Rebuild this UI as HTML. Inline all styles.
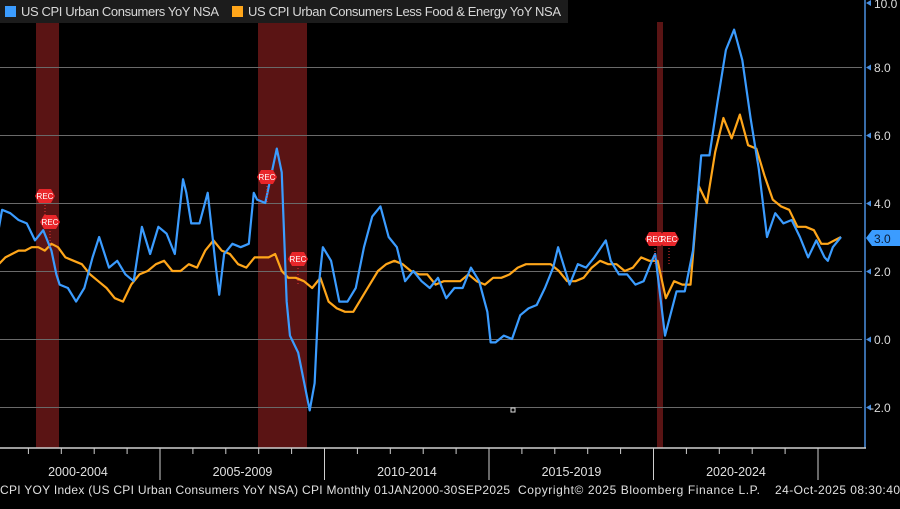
<!DOCTYPE html>
<html><head><meta charset="utf-8"><style>
body{margin:0;background:#000;width:900px;height:509px;overflow:hidden;font-family:"Liberation Sans",sans-serif}
</style></head><body>
<svg width="900" height="509" xmlns="http://www.w3.org/2000/svg" style="display:block">
<rect width="900" height="509" fill="#000"/>
<g fill="#5a1414">
<rect x="36" y="22" width="23" height="426"/>
<rect x="258" y="22" width="49" height="426"/>
<rect x="657" y="22" width="6" height="426"/>
</g>
<rect x="0" y="0" width="568" height="23" fill="#1c1c1c"/>
<rect x="5" y="6" width="11" height="11" fill="#3b9cff"/>
<text x="21" y="16" fill="#d8d8d8" font-size="13" textLength="198">US CPI Urban Consumers YoY NSA</text>
<rect x="232" y="6" width="11" height="11" fill="#ffa61a"/>
<text x="248" y="16" fill="#d8d8d8" font-size="13" textLength="313">US CPI Urban Consumers Less Food &amp; Energy YoY NSA</text>
<g stroke="#6a6a6a" stroke-width="1">
<line x1="0" y1="67.5" x2="862" y2="67.5"/><line x1="0" y1="135.5" x2="862" y2="135.5"/>
<line x1="0" y1="203.5" x2="862" y2="203.5"/><line x1="0" y1="271.5" x2="862" y2="271.5"/>
<line x1="0" y1="339.5" x2="862" y2="339.5"/><line x1="0" y1="407.5" x2="862" y2="407.5"/>
</g>
<g transform="translate(-4.5,339) scale(32.9,-34)" fill="none" stroke-linejoin="round">
<polyline vector-effect="non-scaling-stroke" stroke="#ffa61a" stroke-width="2.2" points="0.1,2.2 0.3,2.4 0.5,2.5 0.7,2.6 0.9,2.6 1.1,2.7 1.3,2.7 1.5,2.6 1.7,2.8 1.9,2.7 2.125,2.4 2.375,2.3 2.625,2.2 2.875,1.9 3.125,1.7 3.375,1.5 3.625,1.2 3.875,1.1 4.125,1.6 4.375,1.9 4.625,2.0 4.875,2.2 5.125,2.3 5.375,2.0 5.625,2.0 5.875,2.2 6.125,2.1 6.375,2.6 6.625,2.9 6.875,2.6 7.125,2.5 7.375,2.2 7.625,2.1 7.875,2.4 8.1,2.4 8.3,2.4 8.5,2.5 8.7,2.0 8.9,1.8 9.125,1.8 9.375,1.7 9.625,1.5 9.875,1.8 10.125,1.1 10.375,0.9 10.625,0.8 10.875,0.8 11.125,1.2 11.375,1.6 11.625,2.0 11.875,2.2 12.125,2.3 12.375,2.2 12.625,2.0 12.875,1.9 13.125,1.9 13.375,1.6 13.625,1.7 13.875,1.7 14.125,1.7 14.375,1.9 14.625,1.7 14.875,1.6 15.125,1.8 15.375,1.8 15.625,1.9 15.875,2.1 16.125,2.2 16.375,2.2 16.625,2.2 16.875,2.2 17.125,2.0 17.375,1.7 17.625,1.7 17.875,1.8 18.125,2.1 18.375,2.3 18.625,2.2 18.875,2.2 19.125,2.0 19.375,2.1 19.625,2.4 19.875,2.3 20.125,2.3 20.375,1.2 20.625,1.7 20.875,1.6 21.125,1.6 21.375,4.5 21.625,4.0 21.875,5.5 22.125,6.5 22.375,5.9 22.625,6.6 22.875,5.7 23.125,5.6 23.375,4.8 23.625,4.1 23.875,3.9 24.125,3.8 24.375,3.3 24.625,3.3 24.875,3.2 25.1,2.8 25.3,2.8 25.5,2.9 25.7,3.0"/>
<polyline vector-effect="non-scaling-stroke" stroke="#3b9cff" stroke-width="2.2" points="0,2.7 0.2,3.8 0.45,3.7 0.7,3.5 0.95,3.4 1.2,2.9 1.45,3.2 1.7,2.6 1.85,1.9 1.95,1.6 2.2,1.5 2.45,1.1 2.7,1.5 2.95,2.4 3.15,3.0 3.45,2.1 3.7,2.3 3.95,1.9 4.2,1.7 4.45,3.3 4.7,2.5 4.95,3.3 5.2,3.1 5.45,2.5 5.7,4.7 5.8,4.3 5.95,3.4 6.2,3.4 6.45,4.3 6.7,2.1 6.8,1.3 6.95,2.5 7.2,2.8 7.45,2.7 7.7,2.8 7.85,4.3 7.95,4.1 8.2,4.0 8.55,5.6 8.7,4.9 8.85,1.1 8.95,0.1 9.2,-0.4 9.55,-2.1 9.7,-1.3 9.85,1.8 9.95,2.7 10.2,2.3 10.45,1.1 10.7,1.1 10.95,1.5 11.2,2.7 11.45,3.6 11.7,3.9 11.95,3.0 12.2,2.7 12.45,1.7 12.7,2.0 12.95,1.7 13.2,1.5 13.45,1.8 13.7,1.2 13.95,1.5 14.2,1.5 14.45,2.1 14.7,1.7 14.95,0.8 15.05,-0.1 15.2,-0.1 15.45,0.1 15.7,0 15.95,0.7 16.2,0.9 16.45,1.0 16.7,1.5 16.95,2.1 17.1,2.7 17.45,1.6 17.7,2.2 17.95,2.1 18.2,2.4 18.55,2.9 18.7,2.3 18.95,1.9 19.2,1.9 19.45,1.6 19.7,1.7 19.95,2.3 20.05,2.5 20.35,0.1 20.7,1.4 20.95,1.4 21.2,2.6 21.45,5.4 21.7,5.4 21.95,7.0 22.2,8.5 22.45,9.1 22.7,8.2 22.95,6.5 23.2,5.0 23.45,3.0 23.7,3.7 23.95,3.4 24.2,3.5 24.45,3.0 24.7,2.4 24.95,2.9 25.2,2.4 25.3,2.3 25.45,2.7 25.7,3.0"/>
</g>
<g stroke="#e33" stroke-dasharray="1,2">
<line x1="45" y1="196" x2="45" y2="221"/><line x1="50" y1="222" x2="50" y2="247"/>
<line x1="267" y1="177" x2="267" y2="202"/><line x1="298" y1="259" x2="298" y2="284"/>
<line x1="655" y1="239" x2="655" y2="264"/><line x1="669" y1="239" x2="669" y2="264"/>
</g>
<g fill="#e8262a">
<polygon points="35,196 39,189 51,189 55,196 51,203 39,203"/>
<polygon points="40,222 44,215 56,215 60,222 56,229 44,229"/>
<polygon points="257,177 261,170 273,170 277,177 273,184 261,184"/>
<polygon points="288,259 292,252 304,252 308,259 304,266 292,266"/>
<polygon points="645,239 649,232 661,232 665,239 661,246 649,246"/>
<polygon points="659,239 663,232 675,232 679,239 675,246 663,246"/>
</g>
<g font-size="8" fill="#fff" text-anchor="middle">
<text x="45" y="199">REC</text><text x="50" y="225">REC</text><text x="267" y="180">REC</text>
<text x="298" y="262">REC</text><text x="655" y="242">REC</text><text x="669" y="242">REC</text>
</g>
<line x1="865" y1="0" x2="865" y2="448" stroke="#4a8fe0" stroke-width="1.5"/>
<line x1="0" y1="448" x2="866" y2="448" stroke="#cfcfcf" stroke-width="1.5"/>
<g stroke="#cfcfcf" stroke-width="1">
<line x1="28.4" y1="448" x2="28.4" y2="454"/><line x1="61.3" y1="448" x2="61.3" y2="454"/><line x1="94.2" y1="448" x2="94.2" y2="454"/><line x1="127.1" y1="448" x2="127.1" y2="454"/>
<line x1="160" y1="448" x2="160" y2="480"/>
<line x1="192.9" y1="448" x2="192.9" y2="454"/><line x1="225.8" y1="448" x2="225.8" y2="454"/><line x1="258.7" y1="448" x2="258.7" y2="454"/><line x1="291.6" y1="448" x2="291.6" y2="454"/>
<line x1="324.5" y1="448" x2="324.5" y2="480"/>
<line x1="357.4" y1="448" x2="357.4" y2="454"/><line x1="390.3" y1="448" x2="390.3" y2="454"/><line x1="423.2" y1="448" x2="423.2" y2="454"/><line x1="456.1" y1="448" x2="456.1" y2="454"/>
<line x1="489" y1="448" x2="489" y2="480"/>
<line x1="521.9" y1="448" x2="521.9" y2="454"/><line x1="554.8" y1="448" x2="554.8" y2="454"/><line x1="587.7" y1="448" x2="587.7" y2="454"/><line x1="620.6" y1="448" x2="620.6" y2="454"/>
<line x1="653.5" y1="448" x2="653.5" y2="480"/>
<line x1="686.4" y1="448" x2="686.4" y2="454"/><line x1="719.3" y1="448" x2="719.3" y2="454"/><line x1="752.2" y1="448" x2="752.2" y2="454"/><line x1="785.1" y1="448" x2="785.1" y2="454"/>
<line x1="818" y1="448" x2="818" y2="480"/>
</g>
<g font-size="12.5" fill="#e0e0e0" text-anchor="middle">
<text x="78" y="476">2000-2004</text><text x="242.5" y="476">2005-2009</text><text x="407" y="476">2010-2014</text><text x="571.5" y="476">2015-2019</text><text x="736" y="476">2020-2024</text>
</g>
<g fill="#4a8fe0">
<polygon points="866,3 871,0 871,6"/><polygon points="866,67.5 871,64.5 871,70.5"/><polygon points="866,135.5 871,132.5 871,138.5"/><polygon points="866,203.5 871,200.5 871,206.5"/><polygon points="866,271.5 871,268.5 871,274.5"/><polygon points="866,339.5 871,336.5 871,342.5"/><polygon points="866,407.5 871,404.5 871,410.5"/>
</g>
<g font-size="12" fill="#dcdcdc">
<text x="874" y="8">10.0</text><text x="874" y="72">8.0</text><text x="874" y="140">6.0</text><text x="874" y="208">4.0</text><text x="874" y="276">2.0</text><text x="874" y="344">0.0</text><text x="870" y="412">-2.0</text>
</g>
<polygon points="866,238 872,230 900,230 900,246 872,246" fill="#3b9cff"/>
<text x="874" y="243" font-size="12" fill="#0a1a33">3.0</text>
<g font-size="12" fill="#e0e0e0">
<text x="0" y="494" textLength="510">CPI YOY Index (US CPI Urban Consumers YoY NSA) CPI Monthly 01JAN2000-30SEP2025</text>
<text x="518" y="494" textLength="242">Copyright© 2025 Bloomberg Finance L.P.</text>
<text x="775" y="494" textLength="125">24-Oct-2025 08:30:40</text>
</g>
<rect x="511" y="408" width="4" height="4" fill="none" stroke="#ddd"/>
</svg>
</body></html>
